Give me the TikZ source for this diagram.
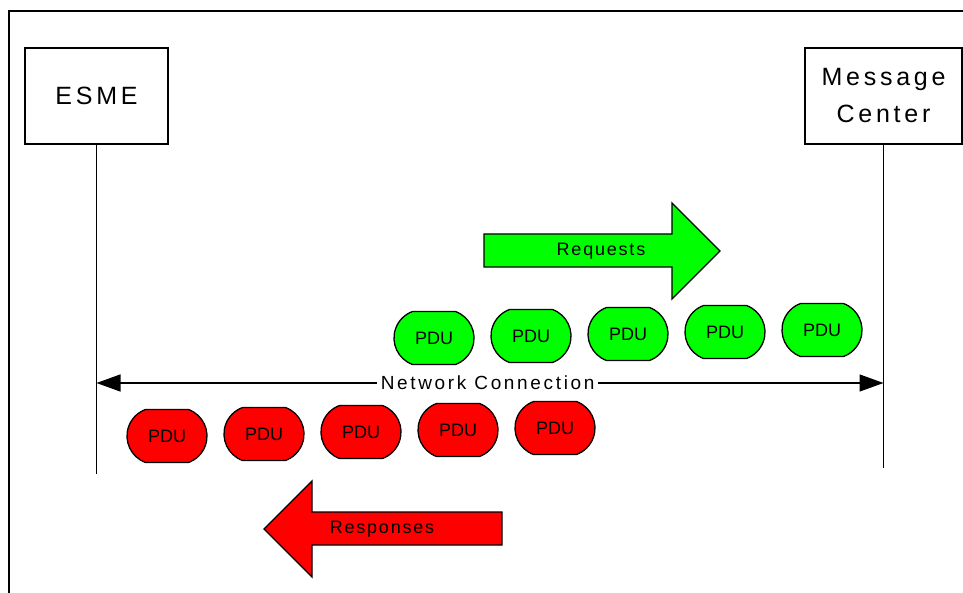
\documentclass[tikz,border=0pt]{standalone}
\usepackage{fontspec}
\setmainfont{Liberation Sans}
\newfontfamily\boxfont[LetterSpace=15]{Liberation Sans}
\newfontfamily\wirefont[LetterSpace=14]{Liberation Sans}
\newfontfamily\flowfont[LetterSpace=10]{Liberation Sans}
\usetikzlibrary{arrows.meta,shapes.misc}

\definecolor{reqgreen}{RGB}{0,255,0}
\definecolor{resred}{RGB}{255,0,0}

\tikzstyle{entity} = [draw, rectangle, line width=1.3pt, minimum height=96pt, align=center, font=\boxfont\fontsize{25}{37}\selectfont]
\tikzstyle{pdu} = [draw, rounded rectangle, rounded rectangle arc length=140, line width=1.3pt, minimum width=80pt, minimum height=53pt, inner sep=0pt, font=\fontsize{18}{20}\selectfont]
\tikzstyle{lifeline} = [draw, line width=1.4pt]
\tikzstyle{link} = [{Triangle[length=24pt,width=17pt]}-{Triangle[length=24pt,width=17pt]}, line width=1.4pt]
\tikzstyle{wire} = [fill=white, inner xsep=4pt, inner ysep=2pt, font=\wirefont\fontsize{19}{21}\selectfont]
\tikzstyle{flow} = [draw, line width=1.3pt, line join=miter]
\tikzstyle{flowtext} = [inner sep=0pt, font=\flowfont\fontsize{18}{20}\selectfont]

\begin{document}
\begin{tikzpicture}[x=1pt,y=-1pt,node distance=97pt]
  \useasboundingbox (0,0) rectangle (963,593);
  \def\rise{2pt}

  \draw [line width=1.5pt] (9,593) -- (9,11) -- (963,11);

  \node [entity, minimum width=143pt] (esme) at (96.5,96) {ESME};
  \node [entity, minimum width=157pt] (mc) at (883.5,96) {Message\\Center};

  \node [coordinate, below of=esme, node distance=378pt] (esme_end) {};
  \node [coordinate, below of=mc, node distance=372pt] (mc_end) {};
  \node [coordinate, below of=esme, node distance=287pt] (esme_c) {};
  \node [coordinate, below of=mc, node distance=287pt] (mc_c) {};

  \node [pdu, fill=reqgreen] (g1) at (434,338) {PDU};
  \node [pdu, fill=reqgreen, right of=g1, yshift=\rise] (g2) {PDU};
  \node [pdu, fill=reqgreen, right of=g2, yshift=\rise] (g3) {PDU};
  \node [pdu, fill=reqgreen, right of=g3, yshift=\rise] (g4) {PDU};
  \node [pdu, fill=reqgreen, right of=g4, yshift=\rise] (g5) {PDU};

  \node [pdu, fill=resred] (r1) at (167,436) {PDU};
  \node [pdu, fill=resred, right of=r1, yshift=\rise] (r2) {PDU};
  \node [pdu, fill=resred, right of=r2, yshift=\rise] (r3) {PDU};
  \node [pdu, fill=resred, right of=r3, yshift=\rise] (r4) {PDU};
  \node [pdu, fill=resred, right of=r4, yshift=\rise] (r5) {PDU};

  \draw [flow, fill=reqgreen] (484,234) -- (672,234) -- (672,203) -- (720,251) -- (672,299) -- (672,267) -- (484,267) -- cycle;
  \node [flowtext] (req) at (601,251) {Requests};

  \draw [flow, fill=resred] (502,512) -- (312,512) -- (312,481) -- (264,529) -- (312,577) -- (312,545) -- (502,545) -- cycle;
  \node [flowtext] (res) at (382,529) {Responses};

  \draw [lifeline] (esme) -- (esme_end);
  \draw [lifeline] (mc) -- (mc_end);
  \draw [link] (esme_c) -- node [wire, pos=0.497] (net) {Network Connection} (mc_c);
\end{tikzpicture}
\end{document}
